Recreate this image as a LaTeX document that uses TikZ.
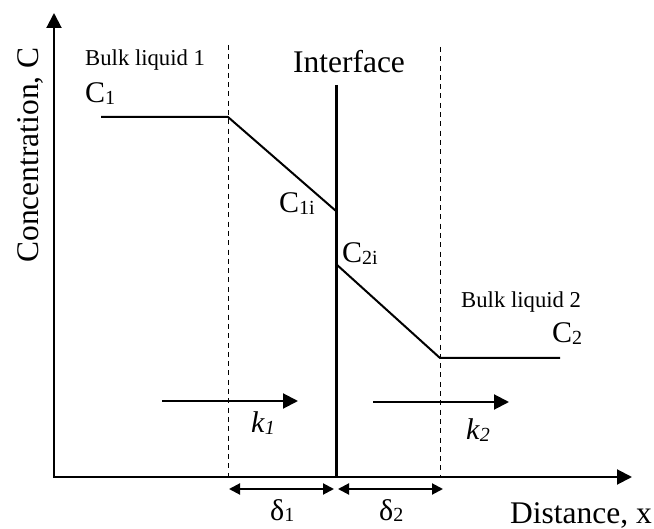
\documentclass[tikz,border=0pt]{standalone}
\usepackage{fontspec}
\setmainfont{Liberation Serif}
\usepackage{tikz}
\usetikzlibrary{arrows.meta,positioning}

\newcommand{\lowsub}[1]{\raisebox{-0.06em}{\fontsize{20}{20}\selectfont #1}}

\begin{document}
\begin{tikzpicture}[
    x=1pt, y=-1pt,
    axis/.style={line width=2pt, -{Triangle[length=15pt, width=15pt]}},
    profile/.style={line width=2pt},
    iface/.style={line width=3pt},
    film/.style={line width=1pt, dash pattern=on 5pt off 4.3pt},
    flux/.style={line width=2pt, -{Triangle[length=15pt, width=15pt]}},
    gap/.style={line width=2pt, {Triangle[length=11pt, width=11pt]}-{Triangle[length=11pt, width=11pt]}},
    biglabel/.style={inner sep=0pt, font=\fontsize{31.5}{36}\selectfont},
    clabel/.style={inner sep=0pt, font=\fontsize{30}{34}\selectfont},
    smalllabel/.style={inner sep=0pt, font=\fontsize{22.7}{26}\selectfont}
]
\useasboundingbox (0,0) rectangle (654,529);

% Axes
\coordinate (origin) at (54,477);
\coordinate (ytip) at (54,13);
\coordinate (xtip) at (632,477);
\draw[axis] (origin) -- (ytip);
\draw[axis] ([xshift=-1pt]origin) -- (xtip);

\node[biglabel, rotate=90, anchor=base] (ylabel) at (38,155) {Concentration, C};
\node[biglabel, anchor=base west] (xlabel) at (510,523) {Distance, x};

% Film boundaries
\coordinate (f1top) at (228,45);
\coordinate (f1bot) at (228,477);
\coordinate (f2top) at (440,47);
\coordinate (f2bot) at (440,477);
\draw[film] (f1top) -- (f1bot);
\draw[film] (f2top) -- (f2bot);

% Interface
\coordinate (itop) at (336,85);
\coordinate (ibot) at (336,477);
\draw[iface] (itop) -- (ibot);
\node[biglabel, anchor=base] (iname) at (349,73) {Interface};

% Concentration profile
\coordinate (p1) at (101,117);
\coordinate (p2) at (228,117);
\coordinate (p3) at (336,211);
\coordinate (p4) at (336,264);
\coordinate (p5) at (440,358);
\coordinate (p6) at (560,358);
\draw[profile] (p1) -- (p2) -- (p3);
\draw[profile] (p4) -- (p5) -- (p6);

% Labels
\node[smalllabel, anchor=base west] (bulk1) at (85,66) {Bulk liquid 1};
\node[clabel, anchor=base west] (c1) at (85,103) {C\lowsub{1}};
\node[clabel, anchor=base west] (c1i) at (279,213) {C\lowsub{1i}};
\node[clabel, anchor=base west] (c2i) at (342,263) {C\lowsub{2i}};
\node[smalllabel, anchor=base west] (bulk2) at (461,308) {Bulk liquid 2};
\node[clabel, anchor=base west] (c2) at (552,343) {C\lowsub{2}};

% Mass transfer arrows
\coordinate (k1a) at (162,401);
\coordinate (k1b) at (298,401);
\coordinate (k2a) at (373,402);
\coordinate (k2b) at (509,402);
\draw[flux] (k1a) -- (k1b);
\draw[flux] (k2a) -- (k2b);
\node[clabel, anchor=base west] (k1) at (251,433) {\textit{k}\lowsub{\textit{1}}};
\node[clabel, anchor=base west] (k2) at (466,440) {\textit{k}\lowsub{\textit{2}}};

% Film thicknesses
\coordinate (d1a) at (229,489);
\coordinate (d1b) at (334,489);
\coordinate (d2a) at (338,489);
\coordinate (d2b) at (443,489);
\draw[gap] (d1a) -- (d1b);
\draw[gap] (d2a) -- (d2b);
\node[clabel, anchor=base west] (d1) at (270,520) {δ\lowsub{1}};
\node[clabel, anchor=base west] (d2) at (379,520) {δ\lowsub{2}};

\end{tikzpicture}
\end{document}
